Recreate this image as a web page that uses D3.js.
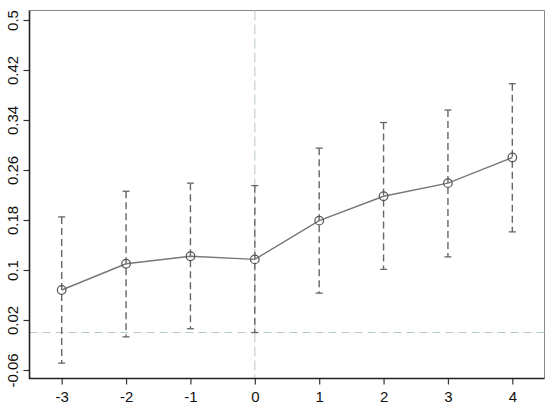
<!DOCTYPE html>
<html>
<head>
<meta charset="utf-8">
<script src="https://cdn.jsdelivr.net/npm/d3@7"></script>
<style>
  body { margin: 0; background: #fff; }
  text { font-family: "Liberation Sans", Arial, sans-serif; }
</style>
</head>
<body>
<script>
// event time periods
var periods = [-3, -2, -1, 0, 1, 2, 3, 4];
// point estimates
var estimates = [0.068, 0.110, 0.122, 0.117, 0.179, 0.218, 0.239, 0.280];
// confidence interval bounds
var lower = [-0.049, -0.007, 0.006, 0.000, 0.063, 0.101, 0.121, 0.161];
var upper = [0.185, 0.226, 0.239, 0.235, 0.295, 0.336, 0.356, 0.398];
// y tick labels
var yTicks = [-0.06, 0.02, 0.1, 0.18, 0.26, 0.34, 0.42, 0.5];

var width = 550,
    height = 408;

var svg = d3.select("body")
    .append("svg")
    .attr("width", width)
    .attr("height", height);

//plot frame
var frameLeft = 29.5, frameRight = 544.5, frameTop = 10.5, frameBottom = 378.5;

var x = d3.scaleLinear().domain([-3.5, 4.5]).range([frameLeft, frameRight]);
var y = d3.scaleLinear().domain([-0.06, 0.5]).range([370, 20]);

var data = periods.map(function (p, i) {
    return { p: p, est: estimates[i], lo: lower[i], hi: upper[i] };
});

//top and right border
svg.append("path")
    .attr("d", "M" + frameLeft + "," + frameTop + "H" + frameRight + "V" + frameBottom)
    .attr("fill", "none")
    .attr("stroke", "#888")
    .attr("stroke-width", 1);

//reference lines at zero
svg.append("line")
    .attr("x1", frameLeft).attr("x2", frameRight)
    .attr("y1", y(0)).attr("y2", y(0))
    .attr("stroke", "#b3c9c1")
    .attr("stroke-width", 1.2)
    .attr("stroke-dasharray", "8,5");

svg.append("line")
    .attr("x1", x(0)).attr("x2", x(0))
    .attr("y1", frameTop).attr("y2", frameBottom)
    .attr("stroke", "#c4d2cc")
    .attr("stroke-width", 1.2)
    .attr("stroke-dasharray", "10,4");

//error bars
var bars = svg.selectAll(".bar")
    .data(data)
    .enter()
    .append("g")
    .attr("class", "bar");

bars.append("line")
    .attr("x1", function (d) { return x(d.p); })
    .attr("x2", function (d) { return x(d.p); })
    .attr("y1", function (d) { return y(d.hi); })
    .attr("y2", function (d) { return y(d.lo); })
    .attr("stroke", "#666")
    .attr("stroke-width", 1.4)
    .attr("stroke-dasharray", "7,4");

bars.selectAll(".cap")
    .data(function (d) { return [d.hi, d.lo].map(function (v) { return { p: d.p, v: v }; }); })
    .enter()
    .append("line")
    .attr("class", "cap")
    .attr("x1", function (d) { return x(d.p) - 3.5; })
    .attr("x2", function (d) { return x(d.p) + 3.5; })
    .attr("y1", function (d) { return y(d.v); })
    .attr("y2", function (d) { return y(d.v); })
    .attr("stroke", "#666")
    .attr("stroke-width", 1.3);

//estimate line
var line = d3.line()
    .x(function (d) { return x(d.p); })
    .y(function (d) { return y(d.est); });

svg.append("path")
    .datum(data)
    .attr("d", line)
    .attr("fill", "none")
    .attr("stroke", "#777")
    .attr("stroke-width", 1.4);

svg.selectAll(".pt")
    .data(data)
    .enter()
    .append("circle")
    .attr("class", "pt")
    .attr("cx", function (d) { return x(d.p); })
    .attr("cy", function (d) { return y(d.est); })
    .attr("r", 4.3)
    .attr("fill", "none")
    .attr("stroke", "#555")
    .attr("stroke-width", 1.2);

//x axis
var xAxis = svg.append("g")
    .attr("transform", "translate(0," + frameBottom + ")")
    .call(d3.axisBottom(x).tickValues(periods).tickFormat(function (d) { return String(d); })
        .tickSize(6).tickPadding(7).tickSizeOuter(0));

//y axis
var yAxis = svg.append("g")
    .attr("transform", "translate(" + frameLeft + ",0)")
    .call(d3.axisLeft(y).tickValues(yTicks).tickFormat(function (d) { return String(d); })
        .tickSize(6).tickPadding(4).tickSizeOuter(0));

//rotate y labels
yAxis.selectAll("text")
    .attr("transform", "rotate(-90)")
    .attr("x", 0)
    .attr("y", -12)
    .attr("dy", 0)
    .attr("text-anchor", "middle");

[xAxis, yAxis].forEach(function (g) {
    g.select(".domain").remove();
    g.selectAll(".tick line").attr("stroke", "#333").attr("stroke-width", 1.2);
    g.selectAll("text").attr("font-size", 15).attr("fill", "#111");
});

//left and bottom axis lines
svg.append("path")
    .attr("d", "M" + frameLeft + "," + frameTop + "V" + frameBottom + "H" + frameRight)
    .attr("fill", "none")
    .attr("stroke", "#222")
    .attr("stroke-width", 1.6);
</script>
</body>
</html>
